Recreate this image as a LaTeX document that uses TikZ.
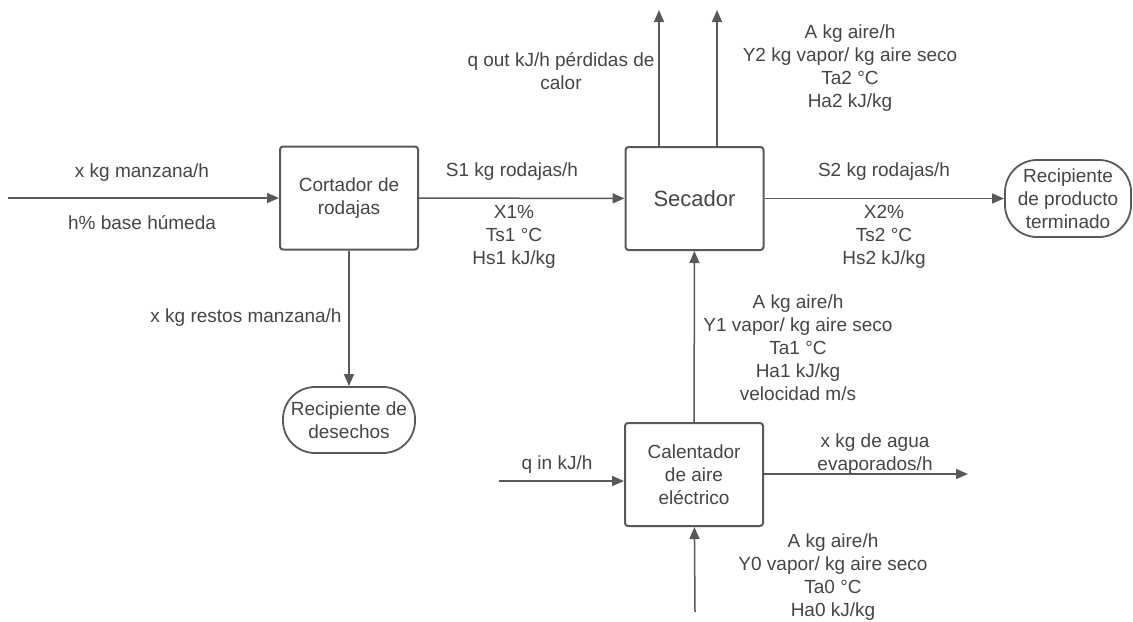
\documentclass[tikz,border=0pt]{standalone}
\usepackage{fontspec}
\setmainfont{Liberation Sans}
\usetikzlibrary{arrows.meta}
\definecolor{linea}{HTML}{595959}
\definecolor{texto}{HTML}{454545}

\begin{document}
\begin{tikzpicture}[x=0.5pt,y=-0.5pt,font=\fontsize{9.5}{11.5}\selectfont,line join=round,>={Triangle[length=6pt,width=5pt]}]
	\tikzset{equipo/.style={draw=linea,line width=1pt,rounded corners=1.5pt,minimum width=69pt,minimum height=51.5pt,align=center,text=texto},
		recipiente/.style={draw=linea,line width=0.9pt,rounded corners=16pt,align=center,text=texto},
		flujo/.style={draw=linea,line width=0.75pt,->},
		etiqueta/.style={align=center,text=texto}}
	\useasboundingbox (0,0) rectangle (1133,621);
	% equipos
	\node[equipo] (cortador) at (349,198) {Cortador de\\rodajas};
	\node[equipo,font=\fontsize{11}{13}\selectfont] (secador) at (694.5,198.5) {Secador};
	\node[equipo] (calentador) at (694,474.5) {Calentador\\de aire\\eléctrico};
	\node[recipiente,minimum width=66pt,minimum height=33pt] (desechos) at (349,420) {Recipiente de\\desechos};
	\node[recipiente,minimum width=63pt,minimum height=38.5pt] (producto) at (1068,198.5) {Recipiente\\de producto\\terminado};
	% extremos libres
	\coordinate (entrada) at (8,198);
	\coordinate (qout) at (659,10);
	\coordinate (aire2) at (717,10);
	\coordinate (qin) at (499,481);
	\coordinate (agua) at (968,474);
	\coordinate (aire0) at (695,612);
	% corrientes
	\draw[flujo] (entrada) -- (cortador);
	\draw[flujo] (cortador) -- (secador);
	\draw[flujo] (secador) -- (producto);
	\draw[flujo] (cortador) -- (desechos);
	\draw[flujo] (secador.north -| qout) -- (qout);
	\draw[flujo] (secador.north -| aire2) -- (aire2);
	\draw[flujo] (calentador) -- (secador);
	\draw[flujo] (aire0) -- (calentador);
	\draw[flujo] (qin) -- (qin -| calentador.west);
	\draw[flujo] (calentador.east |- agua) -- (agua);
	% etiquetas
	\node[etiqueta] (l-manzana) at (142,173) {x kg manzana/h};
	\node[etiqueta] (l-humeda) at (142,223) {h\% base húmeda};
	\node[etiqueta] (l-s1) at (512,172) {S1 kg rodajas/h};
	\node[etiqueta] (l-x1) at (514,237) {X1\%\\Ts1 °C\\Hs1 kJ/kg};
	\node[etiqueta] (l-s2) at (884,172) {S2 kg rodajas/h};
	\node[etiqueta] (l-x2) at (884,237) {X2\%\\Ts2 °C\\Hs2 kJ/kg};
	\node[etiqueta] (l-qout) at (561,71) {q out kJ/h pérdidas de\\calor};
	\node[etiqueta] (l-aire2) at (850,68) {A kg aire/h\\Y2 kg vapor/ kg aire seco\\Ta2 °C\\Ha2 kJ/kg};
	\node[etiqueta] (l-restos) at (246,318) {x kg restos manzana/h};
	\node[etiqueta] (l-aire1) at (798,348) {A kg aire/h\\Y1 vapor/ kg aire seco\\Ta1 °C\\Ha1 kJ/kg\\velocidad m/s};
	\node[etiqueta] (l-qin) at (557,465) {q in kJ/h};
	\node[etiqueta] (l-agua) at (875,454) {x kg de agua\\evaporados/h};
	\node[etiqueta] (l-aire0) at (833,577.5) {A kg aire/h\\Y0 vapor/ kg aire seco\\Ta0 °C\\Ha0 kJ/kg};
\end{tikzpicture}
\end{document}
